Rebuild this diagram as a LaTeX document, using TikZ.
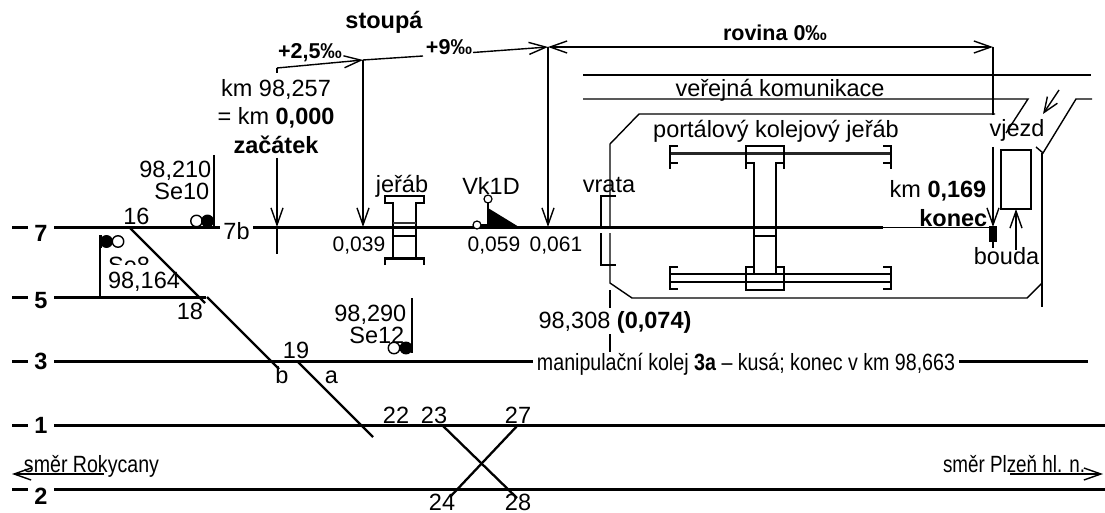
\documentclass[tikz,border=0pt]{standalone}
\usepackage{fontspec}
\usepackage{graphicx}
\setmainfont{Liberation Sans}
\usetikzlibrary{arrows.meta}
\usetikzlibrary{positioning}
\newcommand{\squeezed}[2]{\resizebox{#1pt}{\height}{#2}}

\begin{document}
\begin{tikzpicture}[
  x = 1pt, y = -1pt,
  > = {Straight Barb[length=17pt,width=12pt]},
  line width = 1.4pt,
  track/.style = {line width=3pt},
  rail/.style = {line width=2.3pt},
  thick rail/.style = {line width=3pt,black!85},
  txt/.style = {font=\fontsize{23.5}{26}\selectfont,inner sep=0,anchor=base},
  num/.style = {font=\fontsize{21}{24}\selectfont,inner sep=0,anchor=base},
  tracknum/.style = {font=\fontsize{23.5}{26}\selectfont\bfseries,inner sep=0,anchor=base},
  grade/.style = {font=\fontsize{21.5}{24}\selectfont\bfseries,inner sep=0,anchor=base},
  lamp/.style = {draw,circle,fill=white,inner sep=0,minimum size=11.5pt,line width=1.4pt},
  lamp on/.style = {lamp,fill=black},
  small lamp/.style = {draw,circle,fill=white,inner sep=0,minimum size=8pt,line width=1.2pt}
  ]
  \useasboundingbox (0,0) rectangle (1105,513);

  % track numbers
  \node[tracknum] (@t7) at (41,241) {7};
  \node[tracknum] (@t5) at (41,308) {5};
  \node[tracknum] (@t3) at (41,369) {3};
  \node[tracknum] (@t1) at (41,433) {1};
  \node[tracknum] (@t2) at (41,504) {2};
  \draw[track] (12,227) -- (28,227);
  \draw[track] (12,297) -- (28,297);
  \draw[track] (12,361) -- (28,361);
  \draw[track] (12,425) -- (28,425);
  \draw[track] (12,489) -- (28,489);

  % signal Se8, half hidden behind its kilometre
  \node[txt] (@se8) at (129,273) {Se8};
  \fill[white] (106,265) rectangle (186,294);
  \draw (100,235) -- (100,297);
  \draw[line width=2pt] (101,235) -- (101,248);
  \node[lamp] (@l8b) at (118,241.5) {};
  \node[lamp on] (@l8a) at (106.5,241.5) {};
  \node[txt] (@km8) at (144,288) {98,164};

  % tracks
  \draw[track] (54,227) -- (220,227);
  \draw[track] (253,227) -- (883,227);
  \draw (883,227.5) -- (990,227.5);
  \draw[track] (54,297) -- (206,297);
  \draw[track] (54,361) -- (533,361);
  \draw[track] (959,361) -- (1088,361);
  \draw[track] (54,425) -- (1105,425);
  \draw[track] (54,489) -- (1105,489);
  \draw[rail] (130,228) -- (205,303);
  \draw[rail] (207,297) -- (279,369);
  \draw[rail] (297,361) -- (373,437);
  \draw[rail] (442,425) -- (517,498);
  \draw[rail] (518,425) -- (450,497);

  % gradient marks
  \coordinate (@g0) at (277,68);
  \coordinate (@g1) at (363,60);
  \coordinate (@g2) at (548,47);
  \coordinate (@g3) at (993,47);
  \node[txt,font=\fontsize{23.5}{26}\selectfont\bfseries] (@stoupa) at (384,29) {stoupá};
  \node[grade] (@p25) at (310,59) {+2,5‰};
  \node[grade] (@p9) at (449,55) {+9‰};
  \node[grade] (@rovina) at (775,41) {rovina 0‰};
  \draw (277,73) -- (@g0);
  \draw[->] (@g0) -- (@g1);
  \draw (@g1) -- (423,56);
  \draw[->] (473,52.5) -- (@g2);
  \draw[<->] (@g2) -- (@g3);
  \draw (@g3) -- (993,115);
  \draw[->] (@g1) -- (363,227);
  \draw[->] (@g2) -- (548,227);
  \draw[->] (277,158) -- (277,227);
  \draw (277,227) -- (277,254);
  \draw[->] (993,147) -- (993,227);

  \node[txt] (@km0a) at (276,97) {km 98,257};
  \node[txt] (@km0b) at (276,125) {= km \textbf{0,000}};
  \node[txt,font=\fontsize{23.5}{26}\selectfont\bfseries] (@zacatek) at (276,154) {začátek};
  \node[num] (@k039) at (359,251) {0,039};
  \node[num] (@k059) at (494,251) {0,059};
  \node[num] (@k061) at (556,251) {0,061};
  \node[txt,anchor=base east] (@kmend) at (987,197) {km \textbf{0,169}};
  \node[txt,anchor=base east,font=\fontsize{23.5}{26}\selectfont\bfseries] (@konec) at (988,226) {konec};
  \fill (989,226) rectangle (997,242);
  \draw (993,242) -- (993,248);

  % signals
  \node[txt,anchor=base east] (@km10) at (212,178) {98,210};
  \node[txt,anchor=base east] (@se10) at (210,200) {Se10};
  \draw (214,155) -- (214,227);
  \node[lamp] (@l10a) at (196.5,221) {};
  \node[lamp on] (@l10b) at (207.5,221) {};
  \node[txt,anchor=base east] (@km12) at (407,321) {98,290};
  \node[txt,anchor=base east] (@se12) at (405,343) {Se12};
  \draw (412,298) -- (412,353);
  \node[lamp] (@l12a) at (394,348) {};
  \node[lamp on] (@l12b) at (406,348) {};

  % small crane
  \node[txt] (@jerab) at (402,193) {jeřáb};
  \draw[rail] (393,258) -- (393,203) -- (385,203) -- (385,196) -- (424,196) -- (424,203) -- (416,203) -- (416,258);
  \draw[rail] (385,265) -- (385,258) -- (424,258) -- (424,265);
  \draw[line width=3pt] (385,258) -- (424,258);
  \draw[rail,black!80] (393,223) -- (416,223);
  \draw[rail] (393,236) -- (416,236);

  % Vk1D
  \node[txt] (@vk) at (491,195) {Vk1D};
  \fill (488,208) -- (519,227) -- (488,227) -- cycle;
  \draw (488,203) -- (488,227);
  \node[small lamp] (@lv1) at (488,199) {};
  \draw (477,225) -- (488,225);
  \node[small lamp] (@lv2) at (477,225) {};

  % gate and yard fence
  \node[txt] (@vrata) at (609,193) {vrata};
  \draw (616,196) -- (601,196) -- (601,226);
  \draw (601,233) -- (601,265) -- (616,265);
  \draw (995,114) -- (639,114) -- (610,144) -- (610,226);
  \draw (610,233) -- (610,283) -- (632,298) -- (1027,298) -- (1042,283);
  \draw (1036,147) -- (1043,153) -- (1076,99) -- (1092,99);
  \draw (1042,153) -- (1042,307);
  \draw (610,290) -- (610,308);
  \draw (610,334) -- (610,352);
  \node[txt] (@km308) at (615,328) {98,308 \textbf{(0,074)}};

  % road
  \draw (583,75) -- (1091,75);
  \draw (583,99) -- (1028,99) -- (1006,133);
  \node[txt] (@road) at (780,97) {veřejná komunikace};
  \node[txt] (@vjezd) at (1017,137) {vjezd};
  \draw[->,> = {Straight Barb[length=15pt,width=12pt]}] (1059,90) -- (1043,114);

  % hut
  \draw (1001,150) rectangle (1031,209);
  \draw[->] (1016,250) -- (1016,209);
  \node[txt] (@bouda) at (1006.5,264) {bouda};

  % portal crane
  \node[txt] (@portal) at (776,138) {portálový kolejový jeřáb};
  \draw[thick rail] (670,154) -- (891,154);
  \draw (678,146) -- (670,146) -- (670,169);
  \draw (670,163) -- (678,163);
  \draw (883,146) -- (891,146) -- (891,169);
  \draw (883,163) -- (891,163);
  \draw[rail] (746,169) -- (746,146) -- (784,146) -- (784,169);
  \draw[rail] (746,163) -- (754,163) -- (754,273);
  \draw[rail] (784,163) -- (776,163) -- (776,273);
  \draw[rail] (754,236) -- (776,236);
  \draw (670,274) -- (891,274);
  \draw (670,282) -- (891,282);
  \draw (678,267) -- (670,267) -- (670,289) -- (678,289);
  \draw (883,267) -- (891,267) -- (891,289) -- (883,289);
  \draw[rail] (754,267) -- (746,267) -- (746,290) -- (784,290) -- (784,267) -- (776,267);

  % points
  \node[txt] (@n16) at (136.5,225) {16};
  \node[txt] (@n7b) at (236.5,239) {7b};
  \node[txt] (@n18) at (190,319) {18};
  \node[txt] (@n19) at (296,358) {19};
  \node[txt] (@nb) at (282,383) {b};
  \node[txt] (@na) at (331.5,383) {a};
  \node[txt] (@n22) at (396,423) {22};
  \node[txt] (@n23) at (434,423) {23};
  \node[txt] (@n27) at (518,423) {27};
  \node[txt] (@n24) at (442,510) {24};
  \node[txt] (@n28) at (518,510) {28};

  % directions
  \node[txt] (@manip) at (746,370) {\squeezed{418}{manipulační kolej \textbf{3a} – kusá; konec v km 98,663}};
  \node[txt] (@smerR) at (91.5,472) {\squeezed{135}{směr Rokycany}};
  \node[txt] (@smerP) at (1014,472) {\squeezed{142}{směr Plzeň hl. n.}};
  \draw[->] (104,474) -- (12,474);
  \draw[->] (1010,474) -- (1103,474);
\end{tikzpicture}
\end{document}
